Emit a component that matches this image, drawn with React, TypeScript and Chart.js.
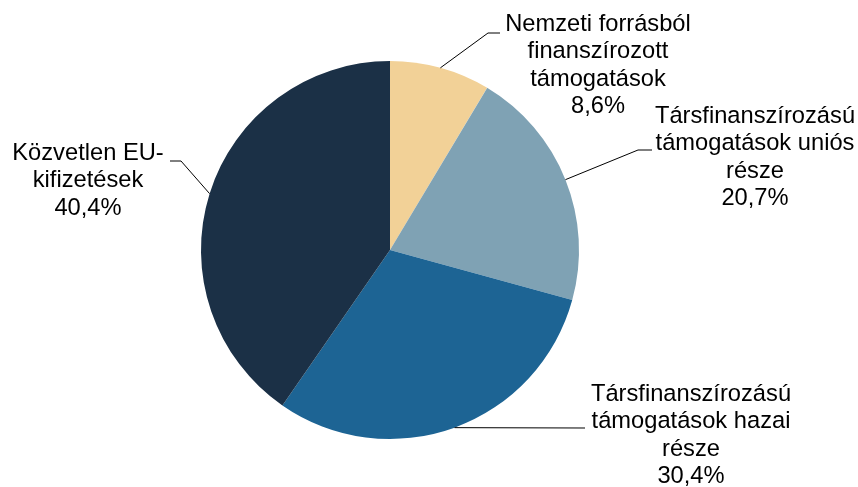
import React, { useEffect, useRef } from "react";
import { Chart, registerables } from "chart.js";

Chart.register(...registerables);

const categories: string[][] = [
  ["Nemzeti forrásból", "finanszírozott", "támogatások"],
  ["Társfinanszírozású", "támogatások uniós", "része"],
  ["Társfinanszírozású", "támogatások hazai", "része"],
  ["Közvetlen EU-", "kifizetések"],
];
const values: number[] = [8.6, 20.7, 30.4, 40.4];
const colors: string[] = ["#F2D197", "#7FA2B4", "#1D6494", "#1B3046"];

// label layout: elbow point, end of horizontal segment, label center x, first line middle y
const labelLayout = [
  { elbow: [488, 33], end: [500, 33], cx: 598, cy: 24 },
  { elbow: [638, 150], end: [652, 150], cx: 755, cy: 116 },
  { elbow: [585, 428], end: [585, 428], cx: 691, cy: 394 },
  { elbow: [181, 161], end: [170, 161], cx: 88, cy: 153 },
];
const lineGap = 27.6;

const labelPlugin = {
  id: "pieLabels",
  afterDraw(chart: any) {
    const ctx = chart.ctx;
    const meta = chart.getDatasetMeta(0);
    ctx.save();
    meta.data.forEach((arc: any, i: number) => {
      const { x, y, startAngle, endAngle, outerRadius } = arc.getProps(
        ["x", "y", "startAngle", "endAngle", "outerRadius"],
        true
      );
      const mid = (startAngle + endAngle) / 2;
      const px = x + Math.cos(mid) * outerRadius;
      const py = y + Math.sin(mid) * outerRadius;
      const lay = labelLayout[i];
      ctx.strokeStyle = "#000";
      ctx.lineWidth = 1;
      ctx.beginPath();
      ctx.moveTo(px, py);
      ctx.lineTo(lay.elbow[0], lay.elbow[1]);
      ctx.lineTo(lay.end[0], lay.end[1]);
      ctx.stroke();
      const lines = [...categories[i], values[i].toFixed(1).replace(".", ",") + "%"];
      ctx.fillStyle = "#000";
      ctx.font = '23.7px "Liberation Sans", Arial, sans-serif';
      ctx.textAlign = "center";
      ctx.textBaseline = "middle";
      lines.forEach((t, k) => ctx.fillText(t, lay.cx, lay.cy + k * lineGap));
    });
    ctx.restore();
  },
};

export default function App() {
  const ref = useRef<HTMLCanvasElement>(null);
  useEffect(() => {
    document.body.style.margin = "0";
    const chart = new Chart(ref.current!, {
      type: "pie",
      data: {
        labels: categories.map((c) => c.join(" ")),
        datasets: [
          {
            data: values,
            backgroundColor: colors,
            borderWidth: 0,
          },
        ],
      },
      options: {
        animation: false,
        responsive: false,
        layout: { padding: { top: 61, bottom: 48, left: 201, right: 279 } },
        plugins: { legend: { display: false }, tooltip: { enabled: false } },
      },
      plugins: [labelPlugin],
    });
    return () => chart.destroy();
  }, []);
  return (
    <div style={{ position: "fixed", left: 0, top: 0, width: 858, height: 487, background: "#fff" }}>
      <canvas ref={ref} width={858} height={487} />
    </div>
  );
}
